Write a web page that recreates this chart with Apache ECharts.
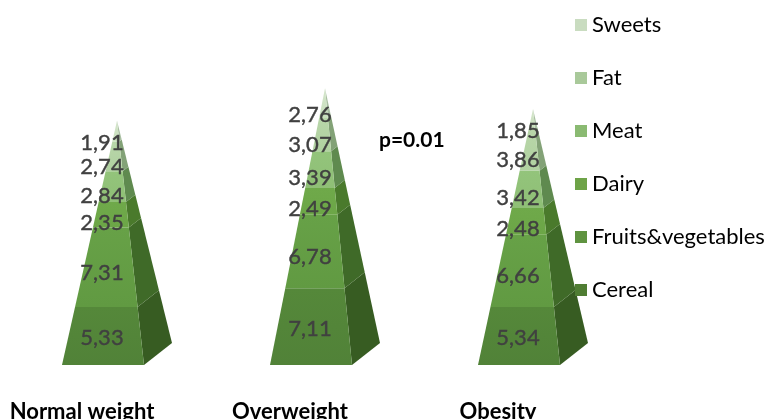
<!DOCTYPE html>
<html>
<head>
<meta charset="utf-8">
<style>html,body{margin:0;padding:0;background:#fff}#c{width:768px;height:419px}</style>
<script src="https://cdn.jsdelivr.net/npm/echarts@6/dist/echarts.min.js"></script>
</head>
<body>
<div id="c"></div>
<script>
// Mean share of each food group per weight class
const groups = ['Normal weight', 'Overweight', 'Obesity'];
const cereal = [5.33, 7.11, 5.34];
const fruits = [7.31, 6.78, 6.66];
const dairy = [2.35, 2.49, 2.48];
const meat = [2.84, 3.39, 3.42];
const fat = [2.74, 3.07, 3.86];
const sweets = [1.91, 2.76, 1.85];
const pValue = 'p=0.01';

// Bottom-to-top stacking order of the pyramid layers
const layers = [
  { name: 'Cereal', values: cereal, legend: '#4f7d33', top: '#55883a', bottom: '#518238', side: '#375c22' },
  { name: 'Fruits&vegetables', values: fruits, legend: '#5f9340', top: '#67a147', bottom: '#619a42', side: '#3f6a28' },
  { name: 'Dairy', values: dairy, legend: '#6ea348', top: '#6fa94a', bottom: '#6ca647', side: '#4a7a2c' },
  { name: 'Meat', values: meat, legend: '#8aba72', top: '#93c47b', bottom: '#8fbf76', side: '#5f8a4f' },
  { name: 'Fat', values: fat, legend: '#a9c99a', top: '#b8d6a9', bottom: '#b0d1a0', side: '#83a277' },
  { name: 'Sweets', values: sweets, legend: '#c9dcc0', top: '#d5e6cc', bottom: '#c8dfbc', side: '#a9bfa2' }
];

// Oblique projection of the square pyramid base, offsets from its centre
const base = { frontLeft: [-55, 11], frontRight: [27, 11], backRight: [55, -11] };
const labelDrop = 12;
const labelShift = -15;

function stackedBelow(layerIndex, groupIndex) {
  let sum = 0;
  for (let i = 0; i < layerIndex; i++) sum += layers[i].values[groupIndex];
  return sum;
}
function stackTotal(groupIndex) {
  return stackedBelow(layers.length, groupIndex);
}

function renderLayer(params, api) {
  const g = api.value(0);
  const v = api.value(1);
  const from = stackedBelow(params.seriesIndex, g);
  const to = from + v;
  const total = stackTotal(g);
  const corner = (offset, level) => {
    const c = api.coord([g, level]);
    const k = 1 - level / total;
    return [c[0] + offset[0] * k, c[1] + offset[1] * k];
  };
  const layer = layers[params.seriesIndex];
  const mid = api.coord([g, from + v / 2]);
  return {
    type: 'group',
    children: [
      {
        type: 'polygon',
        shape: { points: [corner(base.frontRight, from), corner(base.backRight, from), corner(base.backRight, to), corner(base.frontRight, to)] },
        style: { fill: layer.side }
      },
      {
        type: 'polygon',
        shape: { points: [corner(base.frontLeft, from), corner(base.frontRight, from), corner(base.frontRight, to), corner(base.frontLeft, to)] },
        style: {
          fill: new echarts.graphic.LinearGradient(0, 0, 0, 1, [
            { offset: 0, color: layer.top },
            { offset: 1, color: layer.bottom }
          ])
        }
      },
      {
        type: 'text',
        z2: 20,
        x: mid[0] + labelShift,
        y: mid[1] + labelDrop,
        style: {
          text: v.toFixed(2).replace('.', ','),
          fill: '#404040',
          stroke: '#404040',
          lineWidth: 0.4,
          font: '22px Lato',
          textAlign: 'center',
          textVerticalAlign: 'middle'
        }
      }
    ]
  };
}

const chart = echarts.init(document.getElementById('c'), null, { renderer: 'canvas' });
chart.setOption({
  animation: false,
  backgroundColor: '#fff',
  grid: { left: 13, width: 624, top: 42.6, height: 311.4, outerBoundsMode: 'none' },
  xAxis: {
    type: 'category',
    data: groups,
    axisLine: { show: false },
    axisTick: { show: false },
    axisLabel: {
      margin: 47,
      padding: [0, 70, 0, 0],
      color: '#000',
      fontFamily: 'Lato',
      fontWeight: 'bold',
      fontSize: 22
    }
  },
  yAxis: { type: 'value', min: 0, max: 30, show: false },
  legend: {
    orient: 'vertical',
    left: 570,
    top: 9,
    itemWidth: 12,
    itemHeight: 12,
    itemGap: 31,
    data: layers.map(l => l.name).reverse(),
    textStyle: { color: '#000', fontFamily: 'Lato', fontSize: 22 },
    icon: 'rect',
    selectedMode: false
  },
  series: layers.map(l => ({
    name: l.name,
    type: 'custom',
    clip: false,
    itemStyle: { color: l.legend },
    encode: { x: 0, y: 1 },
    data: l.values.map((v, i) => [i, v]),
    renderItem: renderLayer
  })),
  graphic: [{
    type: 'text',
    left: 379,
    top: 130,
    style: { text: pValue, fill: '#000', font: 'bold 21px Lato' }
  }]
});
</script>
</body>
</html>
